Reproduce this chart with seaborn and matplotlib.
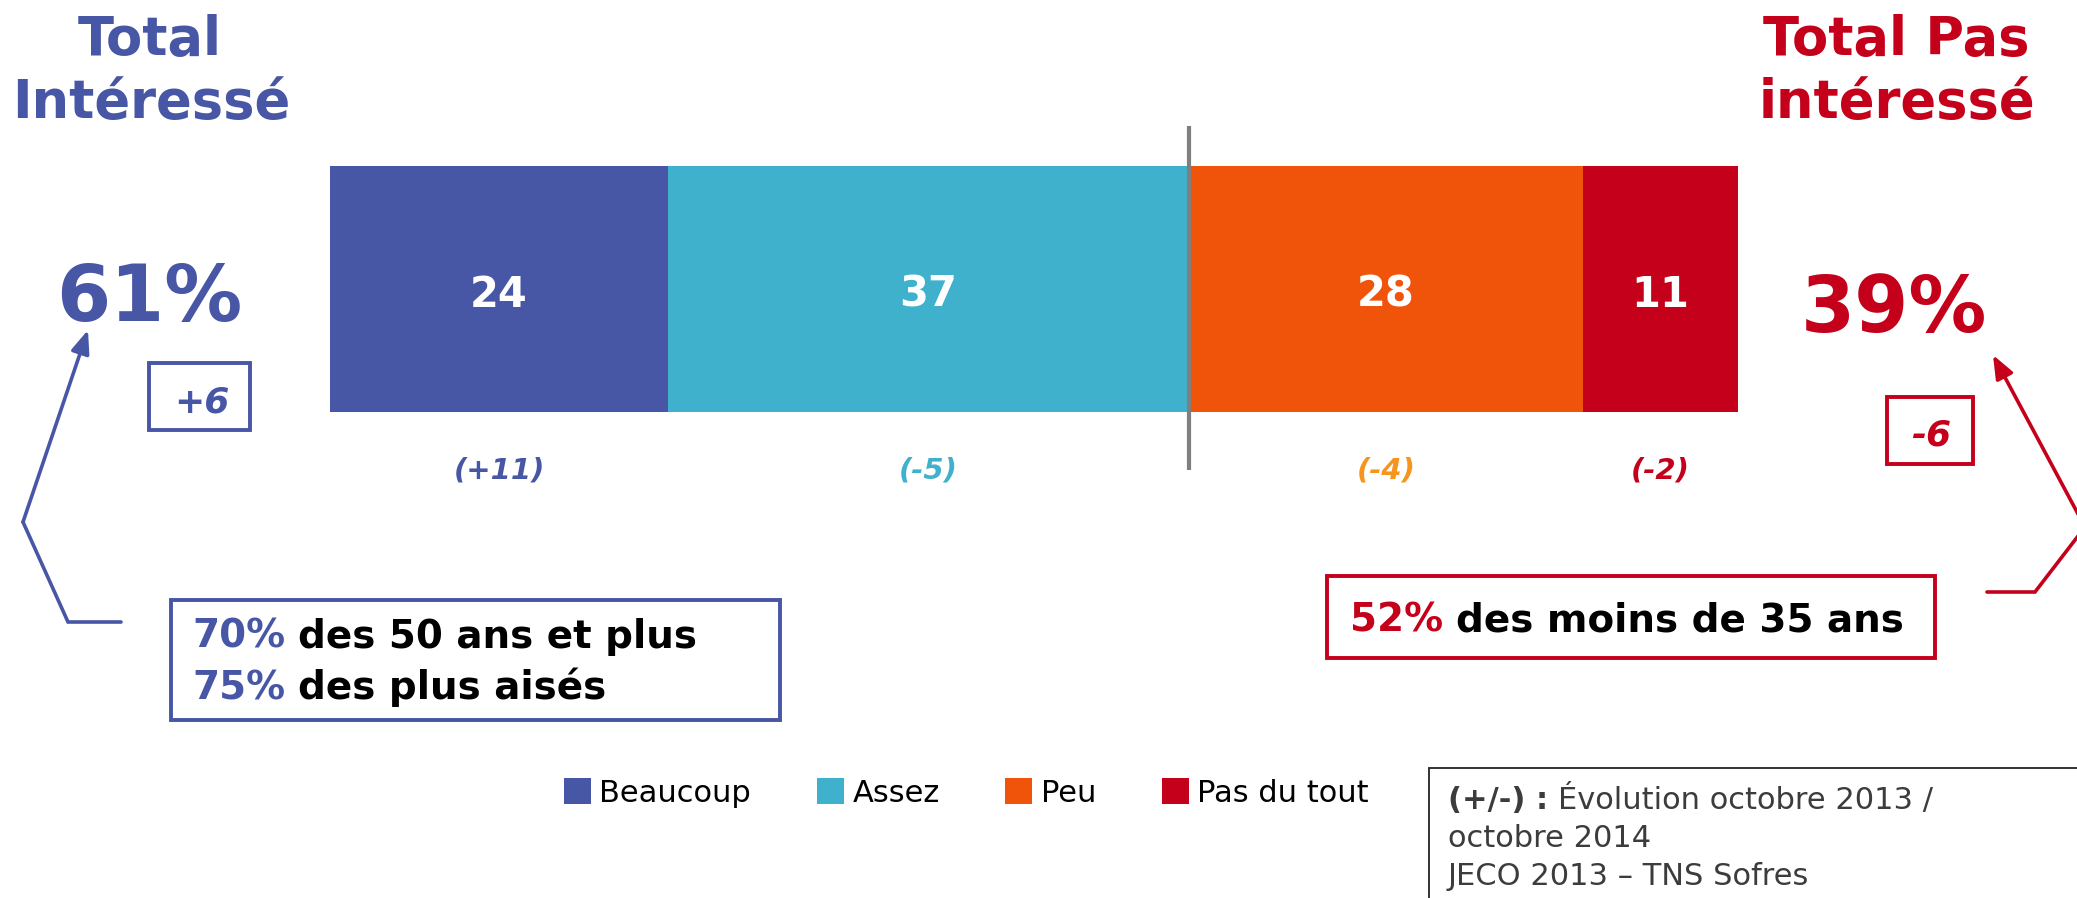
import numpy as np
import pandas as pd
import matplotlib
matplotlib.use("Agg")
import matplotlib.pyplot as plt
from matplotlib.patches import Rectangle, Patch, FancyArrowPatch
from matplotlib.lines import Line2D
import seaborn as sns

W, H = 2077, 898

# données du sondage
reponses = ["Beaucoup", "Assez", "Peu", "Pas du tout"]
valeurs = [24, 37, 28, 11]
evolutions = [11, -5, -4, -2]
couleurs = ["#4856A6", "#3FB1CC", "#F0530A", "#C4001A"]
couleurs_evol = ["#4856A6", "#3FB1CC", "#F7941D", "#C4001A"]

titre_gauche = ["Total", "Intéressé"]
titre_droite = ["Total Pas", "intéressé"]
cibles_interesses = [("70%", "des 50 ans et plus"), ("75%", "des plus aisés")]
cibles_pas = [("52%", "des moins de 35 ans")]
note = [("(+/-) :", "Évolution octobre 2013 /"), ("", "octobre 2014"), ("", "JECO 2013 – TNS Sofres")]

BLEU, ROUGE = couleurs[0], couleurs[3]

sns.set_theme(style="white")
plt.rcParams["font.family"] = ["DejaVu Sans"]

fig = plt.figure(figsize=(W / 100, H / 100), dpi=100)
renderer = fig.canvas.get_renderer()


def fp(x, y):
    # pixels depuis le coin haut gauche -> fraction de figure
    return x / W, 1 - y / H


def texte(x, y, s, **kw):
    return fig.text(*fp(x, y), s, va="baseline", **kw)


def segments(x, y, parts, size):
    cur = x
    for s, col, wt in parts:
        if not s:
            continue
        t = texte(cur, y, s, color=col, weight=wt, fontsize=size, ha="left")
        cur = t.get_window_extent(renderer).x1 + size * 100 / 72 * 0.32


def cadre(x0, y0, x1, y1, color, lw):
    fig.add_artist(Rectangle(fp(x0, y1), (x1 - x0) / W, (y1 - y0) / H,
                             transform=fig.transFigure, fill=False, ec=color, lw=lw))


def fleche(pts, color):
    xs, ys = zip(*[fp(*p) for p in pts[:-1]])
    fig.add_artist(Line2D(xs, ys, transform=fig.transFigure, color=color, lw=2.6,
                          solid_joinstyle="miter"))
    fig.add_artist(FancyArrowPatch(fp(*pts[-2]), fp(*pts[-1]), transform=fig.transFigure,
                                   arrowstyle="-|>,head_length=0.5,head_width=0.2",
                                   mutation_scale=28, color=color, lw=2.6,
                                   shrinkA=0, shrinkB=0))


# barre empilée (cumuls superposés)
ax = fig.add_axes([0, 0, 1, 1])
cumul = np.cumsum(valeurs)
df = pd.DataFrame({"réponse": reponses, "cumul": cumul, "groupe": ["Total"] * len(reponses)})
sns.barplot(data=df, x="cumul", y="groupe", hue="réponse", hue_order=reponses[::-1],
            palette=dict(zip(reponses, couleurs)), dodge=False, width=0.8,
            saturation=1, legend=False, orient="h", linewidth=0, ax=ax)
for p in ax.patches:
    p.set_zorder(200 - p.get_width())

ax.set_xlim(-330 / 14.08, (W - 330) / 14.08)
ax.set_ylim(609 / 307.5, -(H - 609) / 307.5)
ax.axis("off")

ax.vlines(cumul[1], -0.53, 0.59, color="#7F7F7F", lw=3, zorder=300)

for c, v, e, ce in zip(cumul, valeurs, evolutions, couleurs_evol):
    ax.text(c - v / 2, 0.057, str(v), ha="center", va="baseline", color="white",
            fontsize=30, weight="bold", zorder=400)
    ax.text(c - v / 2, 0.615, f"({e:+d})", ha="center", va="baseline", color=ce,
            fontsize=21, weight="bold", style="italic")

# totaux
total_int = valeurs[0] + valeurs[1]
total_pas = valeurs[2] + valeurs[3]
evol_int = evolutions[0] + evolutions[1]
evol_pas = evolutions[2] + evolutions[3]

texte(150, 55, titre_gauche[0], ha="center", color=BLEU, fontsize=38, weight="bold")
texte(151, 118, titre_gauche[1], ha="center", color=BLEU, fontsize=38, weight="bold")
texte(1896, 55, titre_droite[0], ha="center", color=ROUGE, fontsize=38, weight="bold")
texte(1897, 118, titre_droite[1], ha="center", color=ROUGE, fontsize=38, weight="bold")

texte(149, 321, f"{total_int}%", ha="center", color=BLEU, fontsize=56, weight="bold")
texte(1894, 332, f"{total_pas}%", ha="center", color=ROUGE, fontsize=56, weight="bold")

cadre(149, 363, 250, 430, BLEU, 2.8)
texte(202, 412, f"{evol_int:+d}", ha="center", color=BLEU, fontsize=26, weight="bold", style="italic")
cadre(1887, 397, 1973, 464, ROUGE, 2.8)
texte(1931, 445, f"{evol_pas:+d}", ha="center", color=ROUGE, fontsize=26, weight="bold", style="italic")

# flèches
fleche([(121, 622), (68, 622), (23, 522), (88, 330)], BLEU)
fleche([(1987, 592), (2035, 592), (2085, 527), (1993, 355)], ROUGE)

# encadrés des cibles
cadre(171, 600, 780, 720, BLEU, 2.8)
for i, (pct, lib) in enumerate(cibles_interesses):
    segments(192, 648 + i * 51, [(pct, BLEU, "bold"), (lib, "black", "bold")], 28)
cadre(1327, 576, 1935, 658, ROUGE, 2.8)
for pct, lib in cibles_pas:
    segments(1350, 631, [(pct, ROUGE, "bold"), (lib, "black", "bold")], 28)

# légende
handles = [Patch(facecolor=c, edgecolor="none", label=r) for r, c in zip(reponses, couleurs)]
leg = fig.legend(handles=handles, loc="center left", bbox_to_anchor=fp(564, 793), ncol=4,
                 frameon=False, fontsize=22, handlelength=0.88, handleheight=0.9,
                 handletextpad=0.28, columnspacing=2.15, borderpad=0, borderaxespad=0)
for t in leg.get_texts():
    t.set_color("black")

# note
cadre(1429, 768, 2200, 1000, "#222222", 1.3)
for i, (gras, reste) in enumerate(note):
    segments(1448, 809 + i * 38, [(gras, "#3C3C3C", "bold"), (reste, "#3C3C3C", "normal")], 22)

fig.savefig("out.png", dpi=100)
